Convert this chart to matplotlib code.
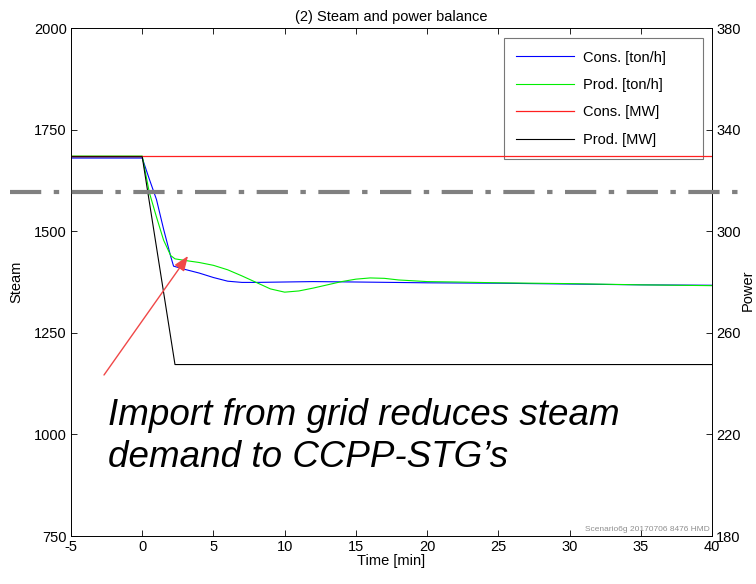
import matplotlib
matplotlib.use("Agg")
import matplotlib.pyplot as plt
from matplotlib.lines import Line2D
from matplotlib.patches import FancyArrowPatch

plt.rcParams['font.family'] = ['Liberation Sans', 'DejaVu Sans']
plt.rcParams['axes.unicode_minus'] = False

# steam consumption [ton/h]
t_cons = [-5, 0, 0.5, 1, 1.5, 2, 2.2, 3, 4, 5, 6, 7, 8, 10, 12, 15, 20, 25, 30, 35, 40]
steam_cons = [1680, 1680, 1628, 1578, 1505, 1438, 1414, 1406, 1397, 1386, 1377, 1374, 1374,
              1375, 1376, 1375, 1373, 1372, 1370, 1368, 1367]

# steam production [ton/h]
t_prod = [-5, 0, 0.5, 1, 1.5, 2, 2.3, 3, 4, 5, 6, 7, 8, 9, 10, 11, 12, 13, 14, 15, 16, 17,
          18, 20, 22, 25, 30, 35, 40]
steam_prod = [1685, 1685, 1595, 1535, 1478, 1440, 1432, 1428, 1423, 1416, 1405, 1390, 1374,
              1358, 1350, 1353, 1360, 1368, 1376, 1382, 1385, 1384, 1380, 1376, 1375, 1373,
              1371, 1368, 1366]

# power [MW]
t_pcons = [-5, 40]
power_cons = [329.8, 329.8]
t_pprod = [-5, 0, 2.3, 40]
power_prod = [329.3, 329.3, 247.5, 247.5]

labels = ['Cons. [ton/h]', 'Prod. [ton/h]', 'Cons. [MW]', 'Prod. [MW]']

FS = 10.5

fig = plt.figure(figsize=(7.56, 5.84), dpi=100)
ax = fig.add_axes([71 / 756, 48 / 584, 641 / 756, 508 / 584])
ax2 = ax.twinx()

l1, = ax.plot(t_cons, steam_cons, color='#0000ff', lw=0.8)
l2, = ax.plot(t_prod, steam_prod, color='#00ee00', lw=0.8)
l3, = ax2.plot(t_pcons, power_cons, color='#ff2020', lw=0.9)
l4, = ax2.plot(t_pprod, power_prod, color='black', lw=0.8)

ax.set_xlim(-5, 40)
ax.set_ylim(750, 2000)
ax.set_yticks([750, 1000, 1250, 1500, 1750, 2000])
ax.set_xticks(range(-5, 41, 5))
ax2.set_ylim(180, 380)
ax2.set_yticks(range(180, 381, 40))

for a in (ax, ax2):
    a.tick_params(direction='in', length=4, labelsize=FS, width=0.6, pad=3)
    for s in a.spines.values():
        s.set_linewidth(0.6)
ax.tick_params(top=True)

ax.set_xlabel('Time [min]', fontsize=FS, labelpad=0)
ax.set_ylabel('Steam', fontsize=FS, labelpad=8)
ax.set_title('(2) Steam and power balance', fontsize=FS, pad=5)
fig.text(741 / 756, 1 - 290 / 584, 'Power', rotation=90, fontsize=FS, va='center', ha='left')

# trailing spaces give the wide right margin of the original legend box
leg = ax.legend([l1, l2, l3, l4], [s + ' ' * 6 for s in labels],
                loc='upper right', fontsize=FS, fancybox=False, edgecolor='#555555',
                borderpad=0.85, labelspacing=0.92, handlelength=4.0, handletextpad=0.6,
                borderaxespad=0, bbox_to_anchor=(0.986, 0.980))
leg.get_frame().set_linewidth(0.8)
leg.set_zorder(5)

# dash-dot reference line across the whole figure
fig.add_artist(Line2D([10 / 756, 748 / 756], [1 - 192 / 584, 1 - 192 / 584],
                      transform=fig.transFigure, color='#808080', lw=3,
                      linestyle=(0, (7.5, 3, 1.3, 3))))

# annotation
fig.text(108 / 756, 1 - 425 / 584, "Import from grid reduces steam",
         fontsize=26.5, style='italic', va='baseline', ha='left')
fig.text(108 / 756, 1 - 467 / 584, "demand to CCPP-STG\u2019s",
         fontsize=26.5, style='italic', va='baseline', ha='left')
fig.add_artist(FancyArrowPatch(
    (104 / 756, 1 - 375 / 584), (188 / 756, 1 - 256 / 584), transform=fig.transFigure,
    arrowstyle='-|>,head_length=9,head_width=3.5', color='#f04848', lw=1,
    shrinkA=0, shrinkB=0))

ax.text(0.996, 0.006, 'Scenario6g 20170706 8476 HMD', transform=ax.transAxes,
        fontsize=6, color='#909090', ha='right', va='bottom')

fig.savefig('out.png', dpi=100)
